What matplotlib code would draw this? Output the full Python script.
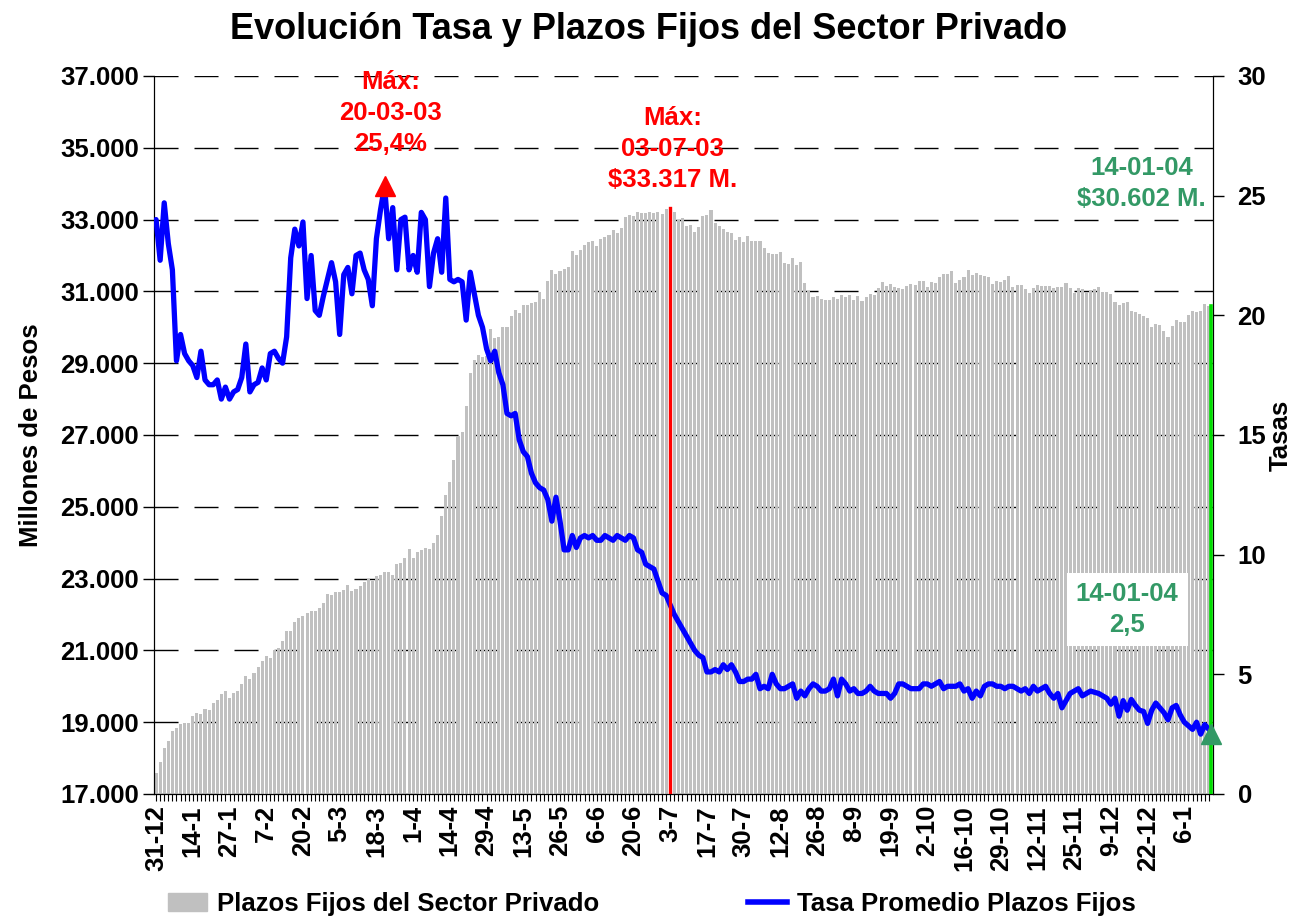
import matplotlib
matplotlib.use("Agg")
import matplotlib.pyplot as plt
from matplotlib.patches import Patch
from matplotlib.lines import Line2D

plt.rcParams['font.family'] = ['Liberation Sans', 'DejaVu Sans']
plt.rcParams['font.weight'] = 'bold'

# tick labels (one every 9 business days)
tick_labels = ['31-12', '14-1', '27-1', '7-2', '20-2', '5-3', '18-3', '1-4', '14-4',
               '29-4', '13-5', '26-5', '6-6', '20-6', '3-7', '17-7', '30-7', '12-8',
               '26-8', '8-9', '19-9', '2-10', '16-10', '29-10', '12-11', '25-11',
               '9-12', '22-12', '6-1']

# Plazos fijos del sector privado (millones de pesos), one value per business day
plazos = [
    17575, 17895, 18280, 18480, 18760, 18835, 18945, 18970, 18970, 19165,
    19255, 19220, 19375, 19330, 19530, 19620, 19785, 19860, 19665, 19820,
    19870, 20060, 20280, 20195, 20370, 20525, 20715, 20855, 20790, 21010,
    21075, 21265, 21540, 21540, 21795, 21915, 21970, 22040, 22105, 22105,
    22180, 22315, 22570, 22535, 22625, 22625, 22680, 22825, 22645, 22715,
    22800, 22900, 22980, 22935, 23065, 23090, 23175, 23175, 23110, 23400,
    23440, 23585, 23820, 23585, 23730, 23795, 23850, 23820, 23995, 24225,
    24745, 25330, 25695, 26295, 26980, 27090, 27820, 28725, 29080, 29220,
    29175, 29200, 29940, 29695, 29730, 30005, 30005, 30305, 30490, 30405,
    30625, 30625, 30670, 30715, 30990, 30780, 31300, 31595, 31485, 31575,
    31630, 31685, 32125, 32015, 32150, 32295, 32380, 32405, 32270, 32460,
    32515, 32570, 32700, 32625, 32770, 33065, 33120, 33100, 33210, 33175,
    33175, 33210, 33175, 33200, 33155, 33290, 33317, 33210, 32980, 33045,
    32825, 32845, 32660, 32790, 33100, 33120, 33255, 32900, 32815, 32725,
    32660, 32625, 32435, 32515, 32370, 32535, 32405, 32405, 32405, 32215,
    32070, 32040, 32040, 32095, 31795, 31775, 31930, 31740, 31820, 31220,
    31020, 30845, 30880, 30780, 30770, 30770, 30835, 30780, 30890, 30845,
    30890, 30770, 30870, 30725, 30835, 30925, 30890, 31100, 31265, 31155,
    31210, 31120, 31100, 31065, 31155, 31210, 31165, 31290, 31290, 31120,
    31255, 31230, 31400, 31475, 31475, 31565, 31245, 31310, 31400, 31585,
    31465, 31510, 31455, 31420, 31400, 31210, 31290, 31265, 31310, 31430,
    31110, 31175, 31175, 31080, 30965, 31100, 31165, 31160, 31160, 31150,
    31100, 31120, 31120, 31225, 31100, 30945, 31085, 31055, 30970, 31035,
    31065, 31120, 30990, 30990, 30925, 30695, 30620, 30665, 30695, 30450,
    30415, 30370, 30320, 30250, 29995, 30080, 30060, 29895, 29730, 30045,
    30190, 30135, 30155, 30340, 30450, 30415, 30460, 30655, 30602,
]

# Tasa promedio plazos fijos (%)
tasa = [
    24.0, 22.3, 24.7, 23.0, 21.9, 18.1, 19.2, 18.4, 18.1, 17.9,
    17.4, 18.5, 17.3, 17.1, 17.1, 17.3, 16.5, 17.0, 16.5, 16.8,
    16.9, 17.4, 18.8, 16.8, 17.1, 17.2, 17.8, 17.3, 18.4, 18.5,
    18.2, 18.0, 19.1, 22.4, 23.6, 22.9, 23.9, 20.7, 22.5, 20.2,
    20.0, 20.8, 21.5, 22.2, 21.4, 19.2, 21.7, 22.0, 20.9, 22.5,
    22.6, 21.9, 21.5, 20.4, 23.2, 24.4, 25.4, 23.2, 24.5, 21.9,
    24.0, 24.1, 21.9, 22.5, 21.8, 24.3, 24.0, 21.2, 22.6, 23.2,
    21.8, 24.9, 21.5, 21.4, 21.5, 21.4, 19.8, 21.8, 20.9, 20.0,
    19.5, 18.6, 18.1, 18.5, 17.6, 17.1, 15.9, 15.8, 15.9, 14.8,
    14.3, 14.1, 13.4, 13.0, 12.8, 12.7, 12.3, 11.4, 12.4, 11.4,
    10.2, 10.2, 10.8, 10.3, 10.7, 10.8, 10.7, 10.8, 10.6, 10.6,
    10.8, 10.7, 10.6, 10.8, 10.7, 10.6, 10.8, 10.7, 10.2, 10.1,
    9.6, 9.5, 9.4, 8.9, 8.4, 8.3, 7.9, 7.5, 7.2, 6.9,
    6.6, 6.3, 6.0, 5.8, 5.7, 5.1, 5.1, 5.2, 5.1, 5.4,
    5.2, 5.4, 5.1, 4.7, 4.7, 4.8, 4.8, 5.0, 4.4, 4.5,
    4.4, 5.0, 4.6, 4.4, 4.4, 4.5, 4.6, 4.0, 4.3, 4.1,
    4.4, 4.6, 4.5, 4.3, 4.3, 4.4, 4.8, 4.1, 4.8, 4.6,
    4.3, 4.4, 4.2, 4.2, 4.3, 4.5, 4.3, 4.2, 4.2, 4.2,
    4.0, 4.2, 4.6, 4.6, 4.5, 4.4, 4.4, 4.4, 4.6, 4.6,
    4.5, 4.6, 4.7, 4.4, 4.5, 4.5, 4.5, 4.6, 4.3, 4.4,
    4.0, 4.3, 4.1, 4.5, 4.6, 4.6, 4.5, 4.5, 4.4, 4.5,
    4.5, 4.4, 4.3, 4.4, 4.2, 4.5, 4.3, 4.4, 4.5, 4.2,
    4.0, 4.2, 3.6, 3.9, 4.2, 4.3, 4.4, 4.1, 4.2, 4.3,
    4.25, 4.2, 4.1, 4.0, 3.75, 4.0, 3.25, 3.9, 3.5, 3.95,
    3.7, 3.5, 3.45, 2.95, 3.5, 3.8, 3.6, 3.4, 3.1, 3.6,
    3.7, 3.3, 3.0, 2.85, 2.7, 3.0, 2.5, 2.9, 2.7,
]

idx_max_tasa = 56
idx_max_pf = 126
tasa_final = 2.5

x = list(range(len(plazos)))
green_txt = '#339966'
fs = 18.5

fig = plt.figure(figsize=(12.91, 9.21), dpi=100)
ax = fig.add_axes([0.1193, 0.1379, 0.8199, 0.7796])
ax2 = ax.twinx()

ax.set_axisbelow(True)
ax.grid(axis='y', color='black', lw=1.0, linestyle=(0, (17.3, 11.5)))
ax.bar(x, plazos, width=0.75, color='#c0c0c0', zorder=2)
ax.set_ylim(17000, 37000)
ax.set_xlim(-0.5, len(plazos) - 0.1)
ax.set_yticks(range(17000, 37001, 2000))
ax.set_yticklabels([f"{v:,}".replace(',', '.') for v in range(17000, 37001, 2000)],
                   fontsize=fs, fontweight='bold')
ax.set_xticks(range(0, len(plazos), 9))
ax.set_xticklabels(tick_labels, rotation=90, fontsize=fs, fontweight='bold')
ax.set_xticks(x, minor=True)
ax.tick_params(axis='x', which='both', length=5, width=0.8, direction='out', pad=3)
ax.tick_params(axis='y', length=8, width=1, pad=3)
ax.set_ylabel('Millones de Pesos', fontsize=fs, fontweight='bold', labelpad=12)

ax2.plot(x, tasa, color='#0000ff', lw=3.8, zorder=3, solid_joinstyle='round',
         solid_capstyle='round')
ax2.set_ylim(0, 30)
ax2.set_yticks(range(0, 31, 5))
ax2.set_yticklabels([str(v) for v in range(0, 31, 5)], fontsize=fs, fontweight='bold')
ax2.tick_params(axis='y', length=8, width=1, pad=10)
ax2.set_ylabel('Tasas', fontsize=fs, fontweight='bold', labelpad=2)

for a in (ax, ax2):
    a.spines['top'].set_visible(False)

# vertical markers drawn on top of the rate line
ax2.plot([idx_max_pf, idx_max_pf], [17000, plazos[idx_max_pf]], color='red', lw=2.4,
         transform=ax.transData, zorder=4)
ax2.plot([len(plazos) - 0.35] * 2, [17000, plazos[-1]], color='#00dd00', lw=2.6,
         transform=ax.transData, zorder=4)
ax2.plot(idx_max_tasa, tasa[idx_max_tasa], marker='^', ms=15, color='red', zorder=5,
         clip_on=False)
ax2.plot(len(plazos) - 0.35, tasa_final, marker='^', ms=15, color=green_txt, zorder=5,
         clip_on=False)

ax2.text(57.4, 28.45, 'Máx:\n20-03-03\n25,4%', color='red', fontsize=fs,
         fontweight='bold', ha='center', va='center', linespacing=1.38)
ax2.text(126.5, 26.95, 'Máx:\n03-07-03\n$33.317 M.', color='red', fontsize=fs,
         fontweight='bold', ha='center', va='center', linespacing=1.38)
ax2.text(241.5, 25.5, '14-01-04\n$30.602 M.', color=green_txt, fontsize=fs,
         fontweight='bold', ha='center', va='center', linespacing=1.38)
ax2.text(238.0, 7.7, '14-01-04\n2,5', color=green_txt, fontsize=fs,
         fontweight='bold', ha='center', va='center', linespacing=1.38, zorder=6,
         bbox=dict(boxstyle='square,pad=0.35', fc='white', ec='none'))

fig.text(0.502, 0.968, 'Evolución Tasa y Plazos Fijos del Sector Privado',
         fontsize=26, fontweight='bold', ha='center', va='center')

handles = [Patch(color='#c0c0c0'), Line2D([], [], color='#0000ff', lw=4)]
fig.legend(handles, ['Plazos Fijos del Sector Privado', 'Tasa Promedio Plazos Fijos'],
           loc='center', bbox_to_anchor=(0.505, 0.018), ncol=2, frameon=False,
           prop={'size': fs, 'weight': 'bold'}, handlelength=1.5,
           handletextpad=0.4, columnspacing=5.8)

fig.savefig('out.png', dpi=100)
